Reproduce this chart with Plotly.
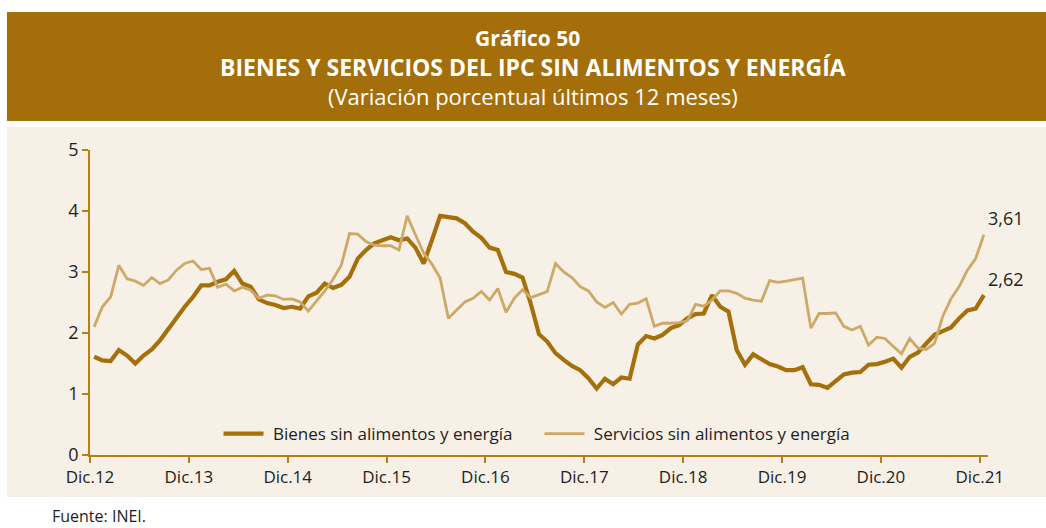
import plotly.graph_objects as go

# Monthly data Dic.12 .. Dic.21 (109 months)
tick_labels = ["Dic.12", "Dic.13", "Dic.14", "Dic.15", "Dic.16", "Dic.17", "Dic.18", "Dic.19", "Dic.20", "Dic.21"]

bienes = [
    1.61, 1.55, 1.54, 1.72, 1.63, 1.50, 1.63, 1.73, 1.88, 2.07, 2.26, 2.43,
    2.59, 2.78, 2.78, 2.84, 2.88, 3.02, 2.81, 2.76, 2.55, 2.49, 2.46, 2.41,
    2.43, 2.40, 2.60, 2.66, 2.81, 2.74, 2.79, 2.92, 3.22, 3.36, 3.47, 3.52,
    3.57, 3.52, 3.55, 3.40, 3.14, 3.52, 3.92, 3.90, 3.88, 3.80, 3.66, 3.56,
    3.40, 3.36, 3.00, 2.97, 2.91, 2.48, 1.98, 1.86, 1.67, 1.56, 1.46, 1.39,
    1.26, 1.09, 1.25, 1.16, 1.27, 1.25, 1.81, 1.95, 1.91, 1.97, 2.08, 2.13,
    2.24, 2.31, 2.32, 2.62, 2.43, 2.35, 1.72, 1.48, 1.65, 1.57, 1.49, 1.45,
    1.39, 1.39, 1.44, 1.16, 1.15, 1.10, 1.21, 1.32, 1.35, 1.36, 1.48, 1.49,
    1.53, 1.58, 1.43, 1.61, 1.68, 1.82, 1.97, 2.03, 2.09, 2.24, 2.37, 2.40,
    2.62,
]

servicios = [
    2.10, 2.43, 2.59, 3.11, 2.89, 2.85, 2.78, 2.91, 2.81, 2.87, 3.03, 3.14,
    3.18, 3.04, 3.06, 2.75, 2.80, 2.69, 2.75, 2.70, 2.57, 2.62, 2.61, 2.55,
    2.56, 2.51, 2.36, 2.52, 2.69, 2.88, 3.11, 3.63, 3.62, 3.50, 3.44, 3.43,
    3.43, 3.36, 3.92, 3.61, 3.31, 3.13, 2.90, 2.24, 2.38, 2.51, 2.57, 2.68,
    2.54, 2.73, 2.34, 2.57, 2.71, 2.58, 2.63, 2.68, 3.14, 3.00, 2.91, 2.76,
    2.69, 2.51, 2.42, 2.50, 2.31, 2.47, 2.49, 2.56, 2.11, 2.16, 2.16, 2.17,
    2.20, 2.47, 2.44, 2.54, 2.69, 2.69, 2.65, 2.57, 2.54, 2.52, 2.86, 2.83,
    2.85, 2.87, 2.90, 2.08, 2.32, 2.32, 2.33, 2.11, 2.05, 2.11, 1.80, 1.93,
    1.91, 1.78, 1.66, 1.91, 1.75, 1.73, 1.83, 2.27, 2.56, 2.76, 3.03, 3.22,
    3.61,
]

months = list(range(len(bienes)))

C_BIENES = "#A5700B"
C_SERV = "#CDA968"
C_AXIS = "#B3801C"
C_TEXT = "#1E1E1E"
C_HEADER = "#A46F0A"
C_BG = "#F6F0E6"
FONT = "Open Sans"
NB = "\u00a0"

fig = go.Figure()
fig.add_trace(go.Scatter(x=months, y=bienes, mode="lines",
                         name=NB + "Bienes sin alimentos y energía" + NB * 5,
                         line=dict(color=C_BIENES, width=4.2)))
fig.add_trace(go.Scatter(x=months, y=servicios, mode="lines",
                         name=NB + "Servicios sin alimentos y energía",
                         line=dict(color=C_SERV, width=2.8)))

# plot area in pixels: x 90..988, y 150..455
L, R, T, B = 90, 988, 150, 455
W, H = 1046, 528
def px(x):
    return (x - L) / (R - L)
def py(y):
    return (B - y) / (B - T)

shapes = [
    dict(type="rect", xref="paper", yref="paper", x0=px(7), x1=px(1046), y0=py(497), y1=py(127),
         fillcolor=C_BG, line=dict(width=0), layer="below"),
    dict(type="rect", xref="paper", yref="paper", x0=px(7), x1=px(1046), y0=py(121), y1=py(12),
         fillcolor=C_HEADER, line=dict(width=0), layer="below"),
]

annotations = [
    dict(text="<b>Gráfico 50</b>", x=px(527), y=py(38), xref="paper", yref="paper",
         showarrow=False, font=dict(family=FONT, size=21, color="white"), xanchor="center", yanchor="middle"),
    dict(text="<b>BIENES Y SERVICIOS DEL IPC SIN ALIMENTOS Y ENERGÍA</b>", x=px(533), y=py(67),
         xref="paper", yref="paper", showarrow=False,
         font=dict(family=FONT, size=23, color="white"), xanchor="center", yanchor="middle"),
    dict(text="(Variación porcentual últimos 12 meses)", x=px(533), y=py(96), xref="paper", yref="paper",
         showarrow=False, font=dict(family=FONT, size=22, color="white"), xanchor="center", yanchor="middle"),
    dict(text="Fuente: INEI.", x=px(50), y=py(516), xref="paper", yref="paper", showarrow=False,
         font=dict(family=FONT, size=16, color=C_TEXT), xanchor="left", yanchor="middle"),
    dict(text="3,61", x=months[-1], y=servicios[-1], xref="x", yref="y", showarrow=False,
         xshift=22, yshift=17, font=dict(family=FONT, size=18, color=C_TEXT)),
    dict(text="2,62", x=months[-1], y=bienes[-1], xref="x", yref="y", showarrow=False,
         xshift=22, yshift=16, font=dict(family=FONT, size=18, color=C_TEXT)),
]

fig.update_layout(
    width=W, height=H,
    margin=dict(l=L, r=W - R, t=T, b=H - B, pad=0),
    paper_bgcolor="white",
    plot_bgcolor="rgba(0,0,0,0)",
    font=dict(family=FONT, size=17, color=C_TEXT),
    shapes=shapes,
    annotations=annotations,
    showlegend=True,
    legend=dict(orientation="h", x=px(537), y=py(434), xanchor="center", yanchor="middle",
                bgcolor="rgba(0,0,0,0)", font=dict(family=FONT, size=17, color=C_TEXT),
                itemwidth=40, tracegroupgap=0),
    xaxis=dict(range=[-0.5, len(bienes) - 0.5], showgrid=False, zeroline=False,
               showline=True, linecolor=C_AXIS, linewidth=1.5,
               ticks="outside", ticklen=6, tickcolor=C_AXIS, tickwidth=1.5,
               tickvals=[-0.5 + 12 * k for k in range(len(tick_labels))], ticktext=tick_labels,
               tickfont=dict(family=FONT, size=17, color=C_TEXT)),
    yaxis=dict(range=[0, 5], dtick=1, showgrid=False, zeroline=False,
               showline=True, linecolor=C_AXIS, linewidth=1.5,
               ticks="outside", ticklen=6, tickcolor=C_AXIS, tickwidth=1.5,
               tickfont=dict(family=FONT, size=18, color=C_TEXT)),
)

fig.write_html("out.html")
